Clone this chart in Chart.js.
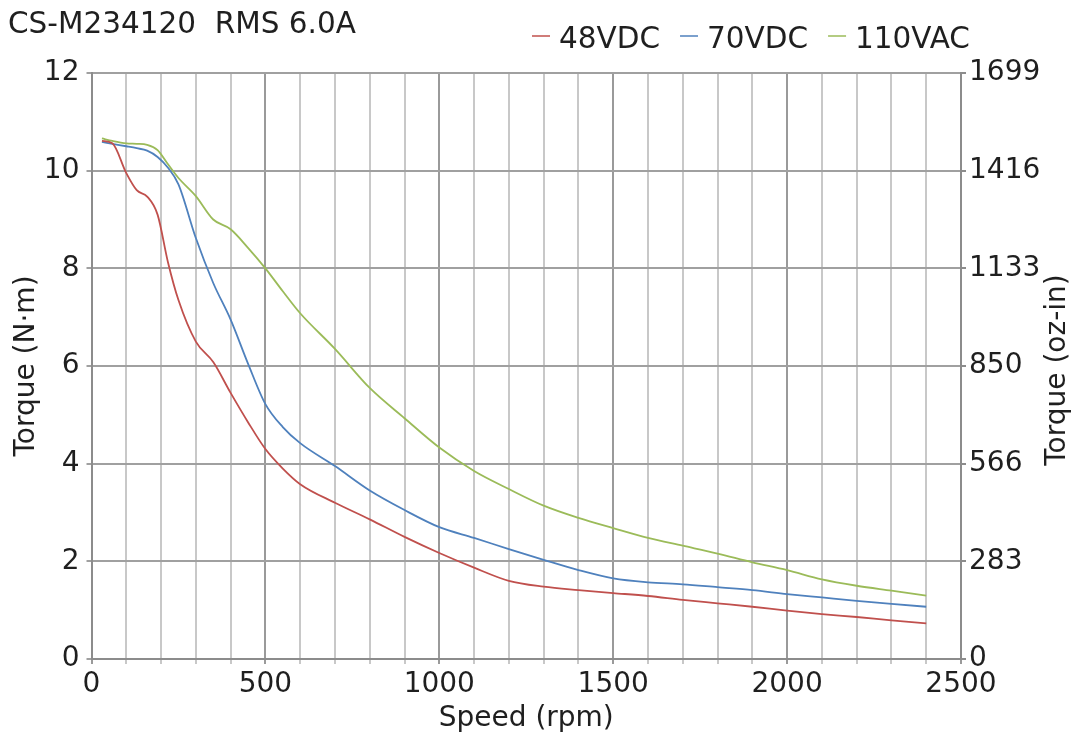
<!DOCTYPE html>
<html>
<head>
<meta charset="utf-8">
<script src="https://cdn.jsdelivr.net/npm/chart.js@4.4.0/dist/chart.umd.min.js"></script>
<style>
  html, body { margin: 0; padding: 0; background: #fff; }
  #wrap { width: 1083px; height: 742px; }
</style>
</head>
<body>
<div id="wrap"><canvas id="torque" width="1083" height="742"></canvas></div>
<script>
// speed points (rpm) shared by all three curves
const speedRpm = [30, 60, 100, 130, 160, 190, 220, 250, 300, 350, 400, 450, 500, 550, 600, 700, 800, 900, 1000,
                  1100, 1200, 1300, 1400, 1500, 1600, 1700, 1800, 1900, 2000, 2100, 2200, 2300, 2400];

// torque in N·m
const torque48VDC = [10.61, 10.56, 9.95, 9.6, 9.47, 9.1, 8.12, 7.35, 6.5, 6.08, 5.45, 4.85, 4.3, 3.9, 3.58, 3.2, 2.86, 2.5, 2.17,
                     1.87, 1.6, 1.48, 1.41, 1.35, 1.29, 1.21, 1.14, 1.07, 0.99, 0.92, 0.86, 0.79, 0.73];
const torque70VDC = [10.59, 10.55, 10.5, 10.46, 10.41, 10.28, 10.06, 9.72, 8.62, 7.7, 6.95, 6.05, 5.22, 4.75, 4.42, 3.95, 3.45, 3.05, 2.7,
                     2.48, 2.25, 2.03, 1.82, 1.65, 1.57, 1.53, 1.47, 1.41, 1.33, 1.26, 1.19, 1.13, 1.07];
const torque110VAC = [10.66, 10.61, 10.56, 10.55, 10.53, 10.42, 10.13, 9.85, 9.48, 9.0, 8.8, 8.42, 8.0, 7.53, 7.08, 6.35, 5.55, 4.93, 4.33,
                      3.85, 3.48, 3.14, 2.89, 2.68, 2.48, 2.32, 2.16, 1.98, 1.82, 1.63, 1.5, 1.4, 1.3];

const seriesLabels = ['48VDC', '70VDC', '110VAC'];
const seriesColors = ['#c0504d', '#4f81bd', '#9bbb59'];

const xTickLabels = [0, 500, 1000, 1500, 2000, 2500];
const ozTickLabels = ['0', '283', '566', '850', '1133', '1416', '1699'];

const chartTitle = 'CS-M234120  RMS 6.0A';
const FONT_FAMILY = "'DejaVu Sans', sans-serif";
const FONT_SIZE = 28;
const TEXT_COLOR = '#1f1f1f';

const toPoints = ys => speedRpm.map((x, i) => ({ x: x, y: ys[i] }));

// title, legend and right-hand axis title (reads upward like the left one)
const overlayText = {
    id: 'overlayText',
    afterDraw(chart) {
        const ctx = chart.ctx;
        ctx.save();
        ctx.font = '29.5px ' + FONT_FAMILY;
        ctx.fillStyle = TEXT_COLOR;
        ctx.textBaseline = 'alphabetic';
        ctx.textAlign = 'left';
        ctx.fillText(chartTitle, 8, 33);

        let x = 532;
        chart.data.datasets.forEach(ds => {
            ctx.strokeStyle = ds.borderColor;
            ctx.lineWidth = 1.5;
            ctx.beginPath();
            ctx.moveTo(x, 36);
            ctx.lineTo(x + 18, 36);
            ctx.stroke();
            ctx.fillText(ds.label, x + 27, 48);
            x += 27 + ctx.measureText(ds.label).width + 20;
        });

        ctx.font = FONT_SIZE + 'px ' + FONT_FAMILY;
        ctx.translate(1058, 370);
        ctx.rotate(-Math.PI / 2);
        ctx.textAlign = 'center';
        ctx.textBaseline = 'middle';
        ctx.fillText('Torque (oz-in)', 0, 0);
        ctx.restore();
    }
};

Chart.defaults.font.family = FONT_FAMILY;
Chart.defaults.font.size = FONT_SIZE;
Chart.defaults.color = TEXT_COLOR;

new Chart(document.getElementById('torque'), {
    type: 'line',
    data: {
        datasets: [torque48VDC, torque70VDC, torque110VAC].map((ys, i) => ({
            label: seriesLabels[i],
            data: toPoints(ys),
            borderColor: seriesColors[i],
            borderWidth: 1.8,
            pointRadius: 0,
            fill: false,
            cubicInterpolationMode: 'monotone'
        }))
    },
    options: {
        responsive: false,
        animation: false,
        layout: { padding: { top: 73, left: 0, right: 0, bottom: 0 } },
        plugins: {
            legend: { display: false },
            tooltip: { enabled: false }
        },
        scales: {
            x: {
                type: 'linear',
                min: 0,
                max: 2500,
                ticks: {
                    stepSize: 100,
                    autoSkip: false,
                    maxRotation: 0,
                    minRotation: 0,
                    padding: 4,
                    callback: v => xTickLabels.includes(v) ? String(v) : ''
                },
                grid: {
                    color: c => (c.tick && c.tick.value % 500 === 0) ? '#9a9a9a' : '#c8c8c8',
                    lineWidth: 2,
                    tickLength: 5
                },
                border: { color: '#8c8c8c', width: 2 },
                title: { display: true, text: 'Speed (rpm)', padding: { top: 0, bottom: 6 } },
                afterFit: s => { s.height = 83; }
            },
            y: {
                position: 'left',
                min: 0,
                max: 12,
                ticks: { stepSize: 2, padding: 7 },
                grid: { color: '#a0a0a0', lineWidth: 2, tickLength: 5 },
                border: { color: '#8c8c8c', width: 2 },
                title: { display: true, text: 'Torque (N·m)', padding: { top: 10, bottom: 0 } },
                afterFit: s => { s.width = 91.5; }
            },
            yOz: {
                position: 'right',
                min: 0,
                max: 12,
                ticks: { stepSize: 2, padding: 3, callback: (v, i) => ozTickLabels[i] },
                grid: { drawOnChartArea: false, color: '#8c8c8c', lineWidth: 2, tickLength: 5 },
                border: { color: '#8c8c8c', width: 2 },
                afterFit: s => { s.width = 122; }
            }
        }
    },
    plugins: [overlayText]
});
</script>
</body>
</html>
